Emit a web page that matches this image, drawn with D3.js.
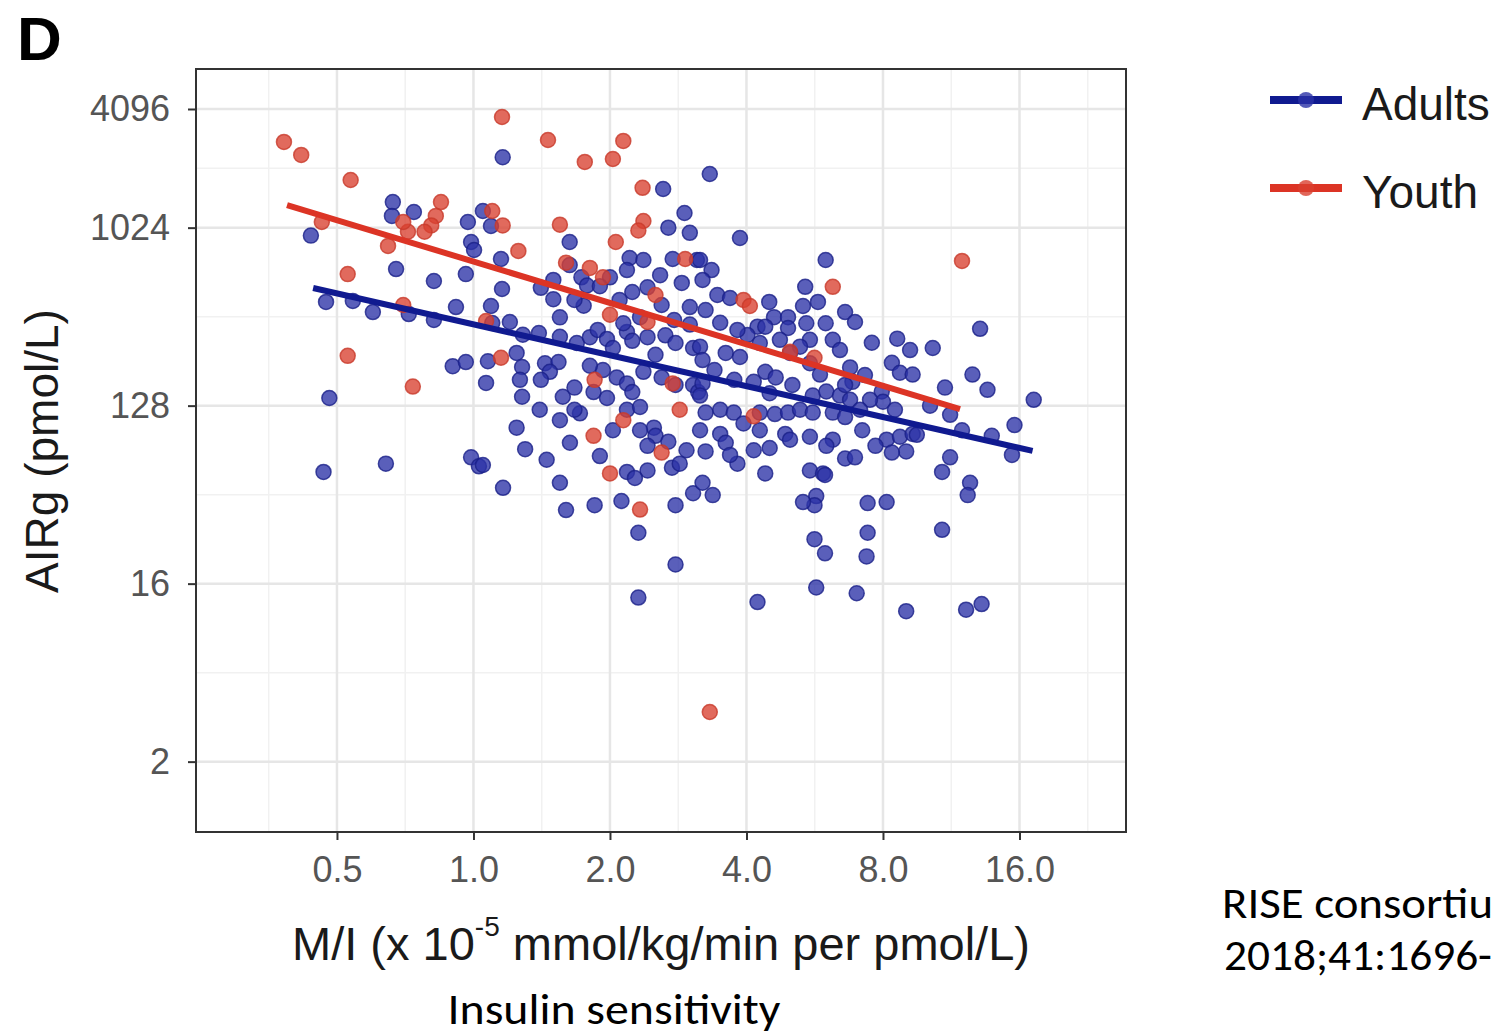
<!DOCTYPE html>
<html>
<head>
<meta charset="utf-8">
<script src="https://cdn.jsdelivr.net/npm/d3@7"></script>
<style>
  body { margin: 0; background: #ffffff; overflow: hidden; }
  svg { display: block; }
</style>
</head>
<body>
<svg id="chart" width="1496" height="1035"></svg>
<script>

// M/I (x 10^-5 mmol/kg/min per pmol/L) and AIRg (pmol/L)

var adults_mi = [0.664, 0.661, 0.739, 0.972, 0.988, 1.003, 1.093, 1.049, 0.438, 0.675,
  0.818, 0.962, 1.15, 1.156, 0.473, 0.542, 0.60, 0.72, 0.915, 1.093,
  1.16, 0.818, 0.481, 0.467, 0.641, 0.988, 1.028, 1.162, 0.90, 0.962,
  1.076, 1.066, 2.62, 3.32, 2.92, 2.69, 3.0, 1.63, 1.63, 1.551,
  1.5, 1.408, 2.21, 2.37, 2.18, 2.75, 3.11, 2.88, 2.24, 2.42,
  2.58, 2.6, 3.0, 1.1, 1.203, 1.285, 1.394, 1.551, 1.69, 1.806,
  1.88, 1.97, 2.03, 2.18, 2.24, 2.42, 2.65, 2.79, 3.05, 1.245,
  1.28, 1.438, 1.54, 1.474, 1.408, 1.28, 1.574, 1.67, 1.84, 1.97,
  1.93, 2.07, 2.18, 2.24, 2.37, 2.6, 2.79, 3.05, 3.13, 2.18,
  2.33, 1.717, 1.551, 1.245, 2.03, 2.5, 2.52, 2.69, 2.95, 2.42,
  1.632, 1.3, 1.45, 1.049, 2.18, 2.42, 2.74, 2.85, 2.27, 1.5,
  1.75, 2.14, 2.0, 1.73, 1.78, 1.9, 3.87, 3.16, 3.35, 3.2,
  5.98, 5.39, 5.33, 5.75, 6.6, 6.94, 7.56, 8.6, 9.18, 10.3,
  8.37, 8.72, 9.3, 4.49, 4.6, 4.94, 4.94, 5.42, 5.98, 4.23,
  4.4, 3.45, 3.68, 3.25, 3.5, 3.16, 3.2, 3.6, 3.87, 4.02,
  5.52, 6.2, 6.43, 5.25, 4.99, 5.52, 4.4, 4.64, 5.05, 4.15,
  3.2, 3.16, 3.5, 3.25, 3.75, 4.28, 4.62, 4.94, 5.25, 5.6,
  6.0, 6.43, 6.77, 5.6, 6.2, 6.6, 7.2, 7.95, 8.0, 8.15,
  8.72, 9.3, 7.7, 9.0, 6.2, 5.52, 4.87, 4.28, 3.94, 3.5,
  3.6, 3.25, 3.82, 4.15, 4.5, 6.0, 6.6, 6.94, 5.52, 5.9,
  4.4, 13.1, 10.96, 12.6, 13.6, 17.2, 15.6, 15.4, 13.9, 11.95,
  11.25, 10.8, 12.45, 12.3, 10.8, 8.15, 7.4, 7.4, 7.36, 5.96,
  5.65, 5.7, 5.65, 5.96, 8.37, 9.5, 7.3, 6.85, 6.77, 1.551,
  1.6, 1.85, 2.12, 2.31, 2.79, 2.79, 3.05, 3.2, 3.37, 5.33,
  2.31, 4.23, 5.7, 7.0, 9.0, 12.2, 13.2,
  // dense core, partly hidden points
  1.67, 2.1, 2.33, 2.77, 3.0, 3.82, 4.28, 4.74, 2.52, 3.4,
  3.76, 4.5, 5.81, 6.6, 7.49, 8.5, 10.16, 11.25, 7.12, 1.806,
  1.67, 2.33, 1.9, 3.16, 4.99, 3.68, 1.4, 1.266];

var adults_airg = [1380, 1175, 1230, 1094, 866, 789, 1044, 1244, 933, 631,
  549, 595, 710, 500, 430, 435, 382, 373, 405, 410,
  2330, 348, 140, 59, 65, 70, 63, 49, 203, 213,
  215, 167, 1609, 1917, 1215, 1024, 964, 866, 661, 359,
  556, 507, 718, 702, 624, 710, 702, 537, 483, 510,
  588, 415, 405, 336, 340, 293, 299, 286, 266, 285,
  310, 279, 251, 303, 273, 285, 291, 266, 251, 237,
  201, 210, 213, 190, 173, 142, 142, 158, 150, 140,
  194, 178, 166, 150, 190, 178, 163, 163, 150, 122,
  126, 117, 108, 99, 96, 99, 90, 84, 76, 80,
  83, 77, 68, 64, 59, 60, 62, 65, 55, 444,
  411, 335, 573, 573, 521, 517, 907, 702, 624, 556,
  702, 513, 410, 430, 382, 340, 267, 280, 245, 251,
  211, 188, 184, 430, 360, 360, 317, 335, 335, 322,
  322, 466, 450, 391, 337, 255, 218, 237, 226, 292,
  276, 276, 245, 255, 237, 210, 190, 178, 163, 169,
  166, 144, 122, 118, 118, 118, 116, 118, 122, 144,
  151, 144, 137, 118, 118, 112, 96, 151, 134, 86,
  89, 92, 80, 75, 86, 89, 92, 96, 104, 92,
  83, 75, 65, 76, 78, 80, 69, 70, 60, 58,
  58, 314, 158, 184, 154, 137, 102, 72, 90, 96,
  70, 59, 52, 45, 30, 41.5, 41, 29, 22, 22.8,
  26.9, 44.5, 40, 57, 74, 91, 183, 169, 200, 52,
  37.8, 40, 42, 29, 20, 40, 46, 52, 45, 41.5,
  13.6, 12.9, 15.3, 14.3, 11.6, 11.8, 12.6,
  440, 440, 360, 348, 330, 310, 266, 276, 232, 194,
  173, 148, 184, 163, 137, 122, 128, 115, 122, 204,
  122, 96, 71, 96, 86, 72, 122, 173];

var youth_mi = [0.382, 0.417, 0.536, 0.848, 0.826, 0.807, 0.78, 0.717, 0.70, 0.648,
  0.463, 0.528, 0.528, 0.735, 0.70, 1.066, 1.156, 1.10, 1.16, 1.46,
  1.76, 2.03, 2.14, 2.36, 2.37, 2.31, 2.06, 1.551, 1.256, 1.60,
  1.806, 1.93, 2.0, 2.52, 2.42, 1.15, 1.85, 2.75, 2.85, 2.14,
  1.84, 2.6, 2.0, 2.33, 3.32, 11.95, 6.2, 3.94, 4.07, 4.15,
  2.93, 4.99, 5.65];

var youth_airg = [2787, 2394, 1787, 1381, 1175, 1051, 976, 976, 1094, 827,
  1094, 595, 229, 160, 415, 344, 3731, 1244, 1051, 2852,
  2206, 2284, 2820, 1631, 1107, 990, 866, 1060, 780, 680,
  640, 573, 370, 466, 340, 224, 173, 166, 122, 108,
  90, 74, 58, 38, 3.57, 694, 513, 440, 410, 113,
  710, 240, 224];

// end points of the fitted lines
var adults_fit_mi = [0.443, 17.1];
var adults_fit_airg = [506, 75.4];
var youth_fit_mi = [0.388, 11.83];
var youth_fit_airg = [1334, 123];

var x_ticks = [0.5, 1, 2, 4, 8, 16];
var y_ticks = [2, 16, 128, 1024, 4096];
var groups = ["Adults", "Youth"];

var blue = "#2b32a6";
var darkblue = "#101a90";
var red = "#d9402f";
var redline = "#dc3425";

var svg = d3.select("#chart");

var x = d3.scaleLog().base(2).domain([0.2444, 27.48]).range([196, 1126]);
var y = d3.scaleLog().base(2).domain([0.879, 6535]).range([832, 69]);

// minor breaks sit half way (in log space) between the major ones
var x_minor = x_ticks.map(function(t) { return t / Math.SQRT2; }).concat([x_ticks[x_ticks.length - 1] * Math.SQRT2]);
var y_minor = d3.pairs(y_ticks).map(function(p) { return Math.sqrt(p[0] * p[1]); });

// grid
svg.append("g").selectAll("line")
    .data(x_minor)
    .enter().append("line")
    .attr("x1", function(d) { return x(d); })
    .attr("x2", function(d) { return x(d); })
    .attr("y1", 69).attr("y2", 832)
    .attr("stroke", "#f1f1f1").attr("stroke-width", 1.5);

svg.append("g").selectAll("line")
    .data(y_minor)
    .enter().append("line")
    .attr("y1", function(d) { return y(d); })
    .attr("y2", function(d) { return y(d); })
    .attr("x1", 196).attr("x2", 1126)
    .attr("stroke", "#f1f1f1").attr("stroke-width", 1.5);

svg.append("g").selectAll("line")
    .data(x_ticks)
    .enter().append("line")
    .attr("x1", function(d) { return x(d); })
    .attr("x2", function(d) { return x(d); })
    .attr("y1", 69).attr("y2", 832)
    .attr("stroke", "#e6e6e6").attr("stroke-width", 2.5);

svg.append("g").selectAll("line")
    .data(y_ticks)
    .enter().append("line")
    .attr("y1", function(d) { return y(d); })
    .attr("y2", function(d) { return y(d); })
    .attr("x1", 196).attr("x2", 1126)
    .attr("stroke", "#e6e6e6").attr("stroke-width", 2.5);

// points
function add_points(mi, airg, fill, stroke) {
    svg.append("g").selectAll("circle")
        .data(d3.zip(mi, airg))
        .enter().append("circle")
        .attr("cx", function(d) { return x(d[0]); })
        .attr("cy", function(d) { return y(d[1]); })
        .attr("r", 7.5)
        .attr("fill", fill)
        .attr("fill-opacity", 0.78)
        .attr("stroke", stroke)
        .attr("stroke-opacity", 0.8)
        .attr("stroke-width", 1.5);
}

add_points(adults_mi, adults_airg, blue, "#1a2088");
add_points(youth_mi, youth_airg, red, "#c83a2a");

// fitted lines
var line = d3.line()
    .x(function(d) { return x(d[0]); })
    .y(function(d) { return y(d[1]); });

svg.append("path")
    .datum(d3.zip(adults_fit_mi, adults_fit_airg))
    .attr("d", line)
    .attr("fill", "none")
    .attr("stroke", darkblue)
    .attr("stroke-width", 6);

svg.append("path")
    .datum(d3.zip(youth_fit_mi, youth_fit_airg))
    .attr("d", line)
    .attr("fill", "none")
    .attr("stroke", redline)
    .attr("stroke-width", 6);

// panel border
svg.append("rect")
    .attr("x", 196).attr("y", 69)
    .attr("width", 930).attr("height", 763)
    .attr("fill", "none")
    .attr("stroke", "#333333")
    .attr("stroke-width", 2);

// axes
var xAxis = svg.append("g")
    .attr("transform", "translate(0,832)")
    .call(d3.axisBottom(x).tickValues(x_ticks).tickFormat(d3.format(".1f")).tickSize(8).tickPadding(16));

var yAxis = svg.append("g")
    .attr("transform", "translate(196,0)")
    .call(d3.axisLeft(y).tickValues(y_ticks).tickFormat(d3.format("d")).tickSize(8).tickPadding(18));

[xAxis, yAxis].forEach(function(ax) {
    ax.select(".domain").remove();
    ax.selectAll(".tick line").attr("stroke", "#333333").attr("stroke-width", 2);
    ax.selectAll(".tick text")
        .attr("fill", "#555555")
        .style("font-family", "'Liberation Sans', Arial, sans-serif")
        .style("font-size", "36px");
});

// axis titles
svg.append("text")
    .attr("transform", "translate(58,451) rotate(-90)")
    .attr("text-anchor", "middle")
    .style("font-family", "'Liberation Sans', Arial, sans-serif")
    .style("font-size", "46px")
    .attr("fill", "#1a1a1a")
    .text("AIRg (pmol/L)");

var xt = svg.append("text")
    .attr("x", 661).attr("y", 960)
    .attr("text-anchor", "middle")
    .style("font-family", "'Liberation Sans', Arial, sans-serif")
    .style("font-size", "47px")
    .attr("fill", "#1a1a1a");
xt.append("tspan").text("M/I (x 10");
xt.append("tspan").attr("dy", -24).style("font-size", "28px").text("-5");
xt.append("tspan").attr("dy", 24).text(" mmol/kg/min per pmol/L)");

// panel letter
svg.append("text")
    .attr("x", 17).attr("y", 60)
    .style("font-family", "'Liberation Sans', Arial, sans-serif")
    .style("font-size", "62px")
    .style("font-weight", "bold")
    .attr("fill", "#000000")
    .text("D");

// legend
var legend_colors = [darkblue, redline];
var legend_points = [blue, red];
var legend = svg.append("g").selectAll("g")
    .data(groups)
    .enter().append("g")
    .attr("transform", function(d, i) { return "translate(0," + (100 + i * 88) + ")"; });

legend.append("line")
    .attr("x1", 1270).attr("x2", 1342)
    .attr("stroke", function(d, i) { return legend_colors[i]; })
    .attr("stroke-width", 8);

legend.append("circle")
    .attr("cx", 1306).attr("r", 8)
    .attr("fill", function(d, i) { return legend_points[i]; })
    .attr("fill-opacity", 0.8);

legend.append("text")
    .attr("x", 1362).attr("y", 20)
    .style("font-family", "'Liberation Sans', Arial, sans-serif")
    .style("font-size", "46px")
    .attr("fill", "#1a1a1a")
    .text(function(d) { return d; });

// slide annotations (the citation runs off the right edge in the original)
var note_font = "Carlito, Calibri, 'Open Sans', sans-serif";

svg.append("text")
    .attr("x", 614).attr("y", 1024)
    .attr("text-anchor", "middle")
    .attr("textLength", 333).attr("lengthAdjust", "spacingAndGlyphs")
    .style("font-family", note_font)
    .style("font-size", "44px")
    .attr("fill", "#000000")
    .text("Insulin sensitivity");

svg.append("text")
    .attr("x", 1222).attr("y", 918)
    .attr("textLength", 271).attr("lengthAdjust", "spacingAndGlyphs")
    .style("font-family", note_font)
    .style("font-size", "44px")
    .attr("fill", "#000000")
    .text("RISE consortiu");

svg.append("text")
    .attr("x", 1224).attr("y", 970)
    .attr("textLength", 268).attr("lengthAdjust", "spacingAndGlyphs")
    .style("font-family", note_font)
    .style("font-size", "44px")
    .attr("fill", "#000000")
    .text("2018;41:1696-");

</script>
</body>
</html>
